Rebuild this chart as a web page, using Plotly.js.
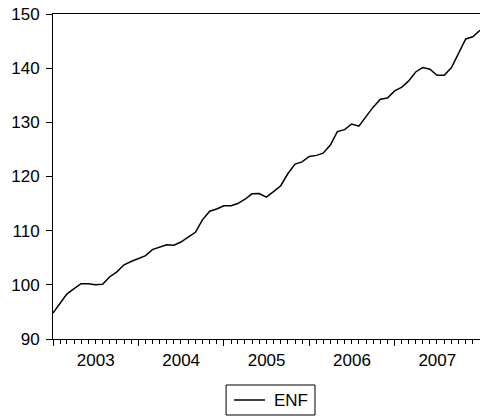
<!DOCTYPE html>
<html>
<head>
<meta charset="utf-8">
<script src="https://cdn.plot.ly/plotly-3.0.1.min.js"></script>
<style>
html,body{margin:0;padding:0;background:#fff;overflow:hidden;}
#chart{width:480px;height:418px;}
</style>
</head>
<body>
<div id="chart"></div>
<script>
const seriesName = "ENF";
const months = [
 "2003-01","2003-02","2003-03","2003-04","2003-05","2003-06","2003-07","2003-08","2003-09","2003-10","2003-11","2003-12",
 "2004-01","2004-02","2004-03","2004-04","2004-05","2004-06","2004-07","2004-08","2004-09","2004-10","2004-11","2004-12",
 "2005-01","2005-02","2005-03","2005-04","2005-05","2005-06","2005-07","2005-08","2005-09","2005-10","2005-11","2005-12",
 "2006-01","2006-02","2006-03","2006-04","2006-05","2006-06","2006-07","2006-08","2006-09","2006-10","2006-11","2006-12",
 "2007-01","2007-02","2007-03","2007-04","2007-05","2007-06","2007-07","2007-08","2007-09","2007-10","2007-11","2007-12",
 "2008-01"
];
const enf = [
 94.8, 96.6, 98.3, 99.3, 100.2, 100.2, 100.0, 100.1, 101.5, 102.4, 103.7, 104.3,
 104.9, 105.4, 106.5, 106.9, 107.4, 107.3, 107.9, 108.8, 109.7, 112.0, 113.6, 114.0,
 114.6, 114.6, 115.0, 115.8, 116.8, 116.85, 116.2, 117.2, 118.3, 120.5, 122.3, 122.7,
 123.7, 123.9, 124.3, 125.8, 128.3, 128.65, 129.7, 129.3, 131.1, 132.8, 134.25, 134.5,
 135.8, 136.5, 137.6, 139.3, 140.1, 139.8, 138.7, 138.7, 140.1, 142.6, 145.4, 145.8,
 147.0
];
const yTicks = [90, 100, 110, 120, 130, 140, 150];

const font = {family: "Liberation Sans, Arial, sans-serif", size: 17, color: "#000"};

const trace = {
  x: months, y: enf, type: "scatter", mode: "lines", name: seriesName,
  line: {color: "#000", width: 1.5}, showlegend: false
};

// Legend drawn in paper coordinates (box, sample line, label)
const legendShapes = [
  {type: "rect", xref: "paper", yref: "paper", x0: 0.4054, x1: 0.6136, y0: -0.2338, y1: -0.1415,
   line: {color: "#000", width: 1}, fillcolor: "#fff", layer: "above"},
  {type: "line", xref: "paper", yref: "paper", x0: 0.4239, x1: 0.4965, y0: -0.1877, y1: -0.1877,
   line: {color: "#000", width: 1.5}}
];
const legendLabel = {
  xref: "paper", yref: "paper", x: 0.513, y: -0.1877, xanchor: "left", yanchor: "middle",
  text: seriesName, showarrow: false, font: font
};

const layout = {
  width: 480, height: 418,
  margin: {l: 53, r: 0, t: 14, b: 79, pad: 0, autoexpand: false},
  paper_bgcolor: "#fff", plot_bgcolor: "#fff",
  font: font,
  showlegend: false,
  shapes: legendShapes,
  annotations: [legendLabel],
  xaxis: {
    type: "date",
    range: ["2003-01-01", "2008-01-01"],
    tick0: "2003-01-01", dtick: "M12",
    ticklabelmode: "period",
    tickformat: "%Y",
    ticks: "outside", ticklen: 6, tickwidth: 1, tickcolor: "#000",
    minor: {dtick: "M1", ticks: "outside", ticklen: 4, tickwidth: 1, tickcolor: "#000", showgrid: false},
    showline: true, linecolor: "#000", linewidth: 1, mirror: true,
    showgrid: false, zeroline: false,
    tickfont: font, ticklabelstandoff: 0
  },
  yaxis: {
    range: [90, 150],
    tickvals: yTicks, ticktext: yTicks.map(String),
    ticks: "outside", ticklen: 6, tickwidth: 1, tickcolor: "#000",
    showline: true, linecolor: "#000", linewidth: 1, mirror: false,
    showgrid: false, zeroline: false,
    tickfont: font, ticklabelstandoff: 3
  }
};

Plotly.newPlot("chart", [trace], layout, {staticPlot: true, displayModeBar: false});
</script>
</body>
</html>
